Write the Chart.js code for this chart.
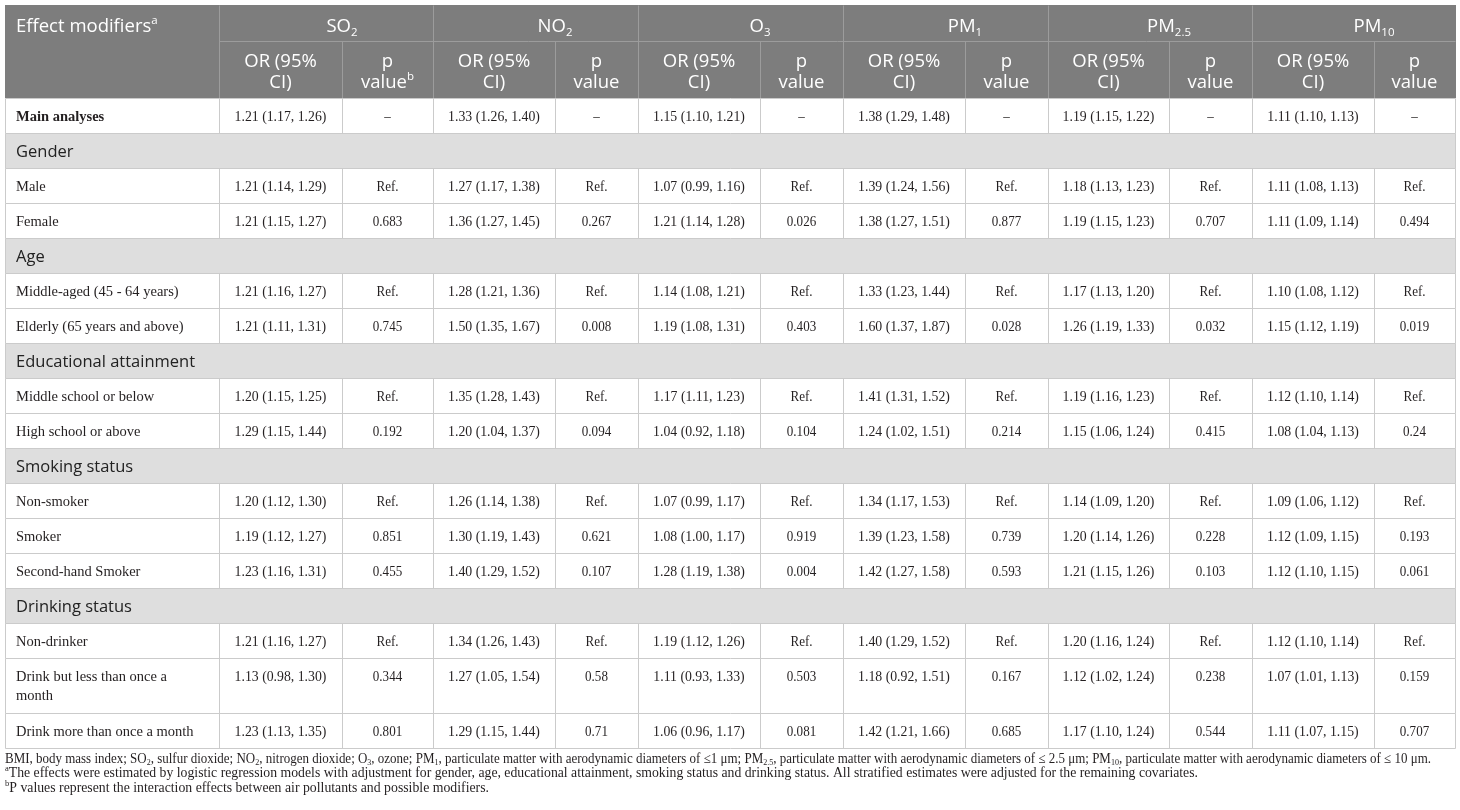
<!DOCTYPE html>
<html>
<head>
<meta charset="utf-8">
<title>Effect modifiers table</title>
<script src="https://cdn.jsdelivr.net/npm/chart.js@4.4.1/dist/chart.umd.min.js"></script>
<style>
  html, body { margin: 0; padding: 0; background: #fff; }
  #wrap { width: 1460px; height: 810px; position: relative; }
</style>
</head>
<body>
<div id="wrap"><canvas id="modifierTable"></canvas></div>
<script>
// column groups (pollutants), _{..} = subscript, ^{..} = superscript
const pollutants = ['SO_{2}', 'NO_{2}', 'O_{3}', 'PM_{1}', 'PM_{2.5}', 'PM_{10}'];
const pHeaders = ['value^{b}', 'value', 'value', 'value', 'value', 'value'];

// rows of the table, section headings are listed again below
const rowLabels = [
  'Main analyses',
  'Gender', 'Male', 'Female',
  'Age', 'Middle-aged (45 - 64 years)', 'Elderly (65 years and above)',
  'Educational attainment', 'Middle school or below', 'High school or above',
  'Smoking status', 'Non-smoker', 'Smoker', 'Second-hand Smoker',
  'Drinking status', 'Non-drinker', ['Drink but less than once a', 'month'], 'Drink more than once a month'
];
const sectionRows = ['Gender', 'Age', 'Educational attainment', 'Smoking status', 'Drinking status'];

// OR (95% CI) and p value for interaction, one entry per non-section row
const so2OR = ['1.21 (1.17, 1.26)', '1.21 (1.14, 1.29)', '1.21 (1.15, 1.27)', '1.21 (1.16, 1.27)', '1.21 (1.11, 1.31)', '1.20 (1.15, 1.25)', '1.29 (1.15, 1.44)', '1.20 (1.12, 1.30)', '1.19 (1.12, 1.27)', '1.23 (1.16, 1.31)', '1.21 (1.16, 1.27)', '1.13 (0.98, 1.30)', '1.23 (1.13, 1.35)'];
const so2P = ['–', 'Ref.', '0.683', 'Ref.', '0.745', 'Ref.', '0.192', 'Ref.', '0.851', '0.455', 'Ref.', '0.344', '0.801'];
const no2OR = ['1.33 (1.26, 1.40)', '1.27 (1.17, 1.38)', '1.36 (1.27, 1.45)', '1.28 (1.21, 1.36)', '1.50 (1.35, 1.67)', '1.35 (1.28, 1.43)', '1.20 (1.04, 1.37)', '1.26 (1.14, 1.38)', '1.30 (1.19, 1.43)', '1.40 (1.29, 1.52)', '1.34 (1.26, 1.43)', '1.27 (1.05, 1.54)', '1.29 (1.15, 1.44)'];
const no2P = ['–', 'Ref.', '0.267', 'Ref.', '0.008', 'Ref.', '0.094', 'Ref.', '0.621', '0.107', 'Ref.', '0.58', '0.71'];
const o3OR = ['1.15 (1.10, 1.21)', '1.07 (0.99, 1.16)', '1.21 (1.14, 1.28)', '1.14 (1.08, 1.21)', '1.19 (1.08, 1.31)', '1.17 (1.11, 1.23)', '1.04 (0.92, 1.18)', '1.07 (0.99, 1.17)', '1.08 (1.00, 1.17)', '1.28 (1.19, 1.38)', '1.19 (1.12, 1.26)', '1.11 (0.93, 1.33)', '1.06 (0.96, 1.17)'];
const o3P = ['–', 'Ref.', '0.026', 'Ref.', '0.403', 'Ref.', '0.104', 'Ref.', '0.919', '0.004', 'Ref.', '0.503', '0.081'];
const pm1OR = ['1.38 (1.29, 1.48)', '1.39 (1.24, 1.56)', '1.38 (1.27, 1.51)', '1.33 (1.23, 1.44)', '1.60 (1.37, 1.87)', '1.41 (1.31, 1.52)', '1.24 (1.02, 1.51)', '1.34 (1.17, 1.53)', '1.39 (1.23, 1.58)', '1.42 (1.27, 1.58)', '1.40 (1.29, 1.52)', '1.18 (0.92, 1.51)', '1.42 (1.21, 1.66)'];
const pm1P = ['–', 'Ref.', '0.877', 'Ref.', '0.028', 'Ref.', '0.214', 'Ref.', '0.739', '0.593', 'Ref.', '0.167', '0.685'];
const pm25OR = ['1.19 (1.15, 1.22)', '1.18 (1.13, 1.23)', '1.19 (1.15, 1.23)', '1.17 (1.13, 1.20)', '1.26 (1.19, 1.33)', '1.19 (1.16, 1.23)', '1.15 (1.06, 1.24)', '1.14 (1.09, 1.20)', '1.20 (1.14, 1.26)', '1.21 (1.15, 1.26)', '1.20 (1.16, 1.24)', '1.12 (1.02, 1.24)', '1.17 (1.10, 1.24)'];
const pm25P = ['–', 'Ref.', '0.707', 'Ref.', '0.032', 'Ref.', '0.415', 'Ref.', '0.228', '0.103', 'Ref.', '0.238', '0.544'];
const pm10OR = ['1.11 (1.10, 1.13)', '1.11 (1.08, 1.13)', '1.11 (1.09, 1.14)', '1.10 (1.08, 1.12)', '1.15 (1.12, 1.19)', '1.12 (1.10, 1.14)', '1.08 (1.04, 1.13)', '1.09 (1.06, 1.12)', '1.12 (1.09, 1.15)', '1.12 (1.10, 1.15)', '1.12 (1.10, 1.14)', '1.07 (1.01, 1.13)', '1.11 (1.07, 1.15)'];
const pm10P = ['–', 'Ref.', '0.494', 'Ref.', '0.019', 'Ref.', '0.24', 'Ref.', '0.193', '0.061', 'Ref.', '0.159', '0.707'];

const notes = [
  'BMI, body mass index; SO_{2}, sulfur dioxide; NO_{2}, nitrogen dioxide; O_{3}, ozone; PM_{1}, particulate matter with aerodynamic diameters of ≤1 μm; PM_{2.5}, particulate matter with aerodynamic diameters of ≤ 2.5 μm; PM_{10}, particulate matter with aerodynamic diameters of ≤ 10 μm.',
  '^{a}The effects were estimated by logistic regression models with adjustment for gender, age, educational attainment, smoking status and drinking status. All stratified estimates were adjusted for the remaining covariates.',
  '^{b}P values represent the interaction effects between air pollutants and possible modifiers.'
];

// layout (scale units)
const colWidths = [214, 123, 91, 122, 83, 122, 83, 122, 83, 121, 83, 122, 81];
const headRows = [36, 57];
const rowHeights = rowLabels.map(l => Array.isArray(l) ? 55 : 35);
const noteWidths = [1426, 1193, 484];

const orCols = [so2OR, no2OR, o3OR, pm1OR, pm25OR, pm10OR];
const pCols = [so2P, no2P, o3P, pm1P, pm25P, pm10P];

const cum = arr => arr.reduce((a, v) => { a.push(a[a.length - 1] + v); return a; }, [0]);
const colEdges = cum(colWidths);
const rowEdges = cum(headRows.concat(rowHeights));
const totalW = colEdges[colEdges.length - 1];
const totalH = rowEdges[rowEdges.length - 1];

const SANS = '"Open Sans", "Noto Sans", sans-serif';
const SERIF = '"Liberation Serif", "DejaVu Serif", serif';

function parseRich(s) {
  return s.split(/(_\{[^}]*\}|\^\{[^}]*\})/).filter(Boolean).map(p => {
    if (p.startsWith('_{')) return { t: p.slice(2, -1), k: 'sub' };
    if (p.startsWith('^{')) return { t: p.slice(2, -1), k: 'sup' };
    return { t: p, k: 'n' };
  });
}

function drawRich(ctx, s, px, py, o) {
  const parts = parseRich(s);
  const fontFor = k => `${o.weight || 'normal'} ${k === 'n' ? o.size : o.size * 0.62}px ${o.family}`;
  let w = 0;
  parts.forEach(p => { ctx.font = fontFor(p.k); p.w = ctx.measureText(p.t).width; w += p.w; });
  const sx = o.fit ? Math.min(1.3, o.fit / w) : (o.sx || 1);
  ctx.save();
  ctx.translate(px, py);
  ctx.scale(sx, 1);
  let cx = o.align === 'center' ? -w / 2 : 0;
  ctx.fillStyle = o.color;
  ctx.textBaseline = 'middle';
  ctx.textAlign = 'left';
  parts.forEach(p => {
    ctx.font = fontFor(p.k);
    const dy = p.k === 'sub' ? o.size * 0.3 : p.k === 'sup' ? -o.size * 0.32 : 0;
    ctx.fillText(p.t, cx, dy);
    cx += p.w;
  });
  ctx.restore();
}

const tablePlugin = {
  id: 'tableDraw',
  afterDraw(chart) {
    const { ctx, scales: { x, y } } = chart;
    const X = v => Math.round(x.getPixelForValue(v)) + 0.5;
    const Y = v => Math.round(y.getPixelForValue(v)) + 0.5;
    const left = X(0), right = X(totalW);
    const hTop = Y(0), hMid = Y(rowEdges[1]), hBot = Y(rowEdges[2]);

    // header background
    ctx.fillStyle = '#7d7d7d';
    ctx.fillRect(left - 0.5, hTop - 0.5, right - left + 1, hBot - hTop);

    // section backgrounds
    rowLabels.forEach((lab, i) => {
      if (sectionRows.includes(lab)) {
        ctx.fillStyle = '#dedede';
        const t = Y(rowEdges[i + 2]), b = Y(rowEdges[i + 3]);
        ctx.fillRect(left, t, right - left, b - t);
      }
    });

    ctx.lineWidth = 1;
    // header lines
    ctx.strokeStyle = '#9c9c9c';
    ctx.beginPath();
    ctx.moveTo(X(colEdges[1]), hMid); ctx.lineTo(right, hMid);
    for (let c = 1; c < colEdges.length - 1; c++) {
      const top = (c % 2 === 1) ? hTop : hMid;
      ctx.moveTo(X(colEdges[c]), top); ctx.lineTo(X(colEdges[c]), hBot);
    }
    ctx.stroke();

    // body lines
    ctx.strokeStyle = '#cbcbcb';
    ctx.beginPath();
    for (let r = 2; r < rowEdges.length; r++) {
      ctx.moveTo(left, Y(rowEdges[r])); ctx.lineTo(right, Y(rowEdges[r]));
    }
    rowLabels.forEach((lab, i) => {
      const t = Y(rowEdges[i + 2]), b = Y(rowEdges[i + 3]);
      ctx.moveTo(left, t); ctx.lineTo(left, b);
      ctx.moveTo(right, t); ctx.lineTo(right, b);
      if (sectionRows.includes(lab)) return;
      for (let c = 1; c < colEdges.length - 1; c++) {
        ctx.moveTo(X(colEdges[c]), t); ctx.lineTo(X(colEdges[c]), b);
      }
    });
    ctx.stroke();

    // header text
    const HF = 18.5;
    const hy1 = y.getPixelForValue(headRows[0] / 2) + 4;
    drawRich(ctx, 'Effect modifiers^{a}', x.getPixelForValue(11), hy1, { size: HF, family: SANS, color: '#fff' });
    pollutants.forEach((p, g) => {
      const cx = x.getPixelForValue(colEdges[1 + g * 2 + 1]);
      drawRich(ctx, p, cx, hy1, { size: HF, family: SANS, color: '#fff', align: 'center' });
      const orX = x.getPixelForValue((colEdges[1 + g * 2] + colEdges[2 + g * 2]) / 2);
      const pX = x.getPixelForValue((colEdges[2 + g * 2] + colEdges[3 + g * 2]) / 2);
      const l1 = y.getPixelForValue(rowEdges[1] + 21), l2 = y.getPixelForValue(rowEdges[1] + 42);
      drawRich(ctx, 'OR (95%', orX, l1, { size: HF, family: SANS, color: '#fff', align: 'center' });
      drawRich(ctx, 'CI)', orX, l2, { size: HF, family: SANS, color: '#fff', align: 'center' });
      drawRich(ctx, 'p', pX, l1, { size: HF, family: SANS, color: '#fff', align: 'center' });
      drawRich(ctx, pHeaders[g], pX, l2, { size: HF, family: SANS, color: '#fff', align: 'center' });
    });

    // body text
    let k = 0;
    rowLabels.forEach((lab, i) => {
      const top = rowEdges[i + 2], bot = rowEdges[i + 3];
      const lx = x.getPixelForValue(11);
      if (sectionRows.includes(lab)) {
        drawRich(ctx, lab, lx, y.getPixelForValue((top + bot) / 2) + 2, { size: 16.5, family: SANS, color: '#222' });
        return;
      }
      const lines = Array.isArray(lab) ? lab : [lab];
      const first = lines.length > 1 ? top + 19 : (top + bot) / 2 + 1.5;
      lines.forEach((ln, j) => {
        drawRich(ctx, ln, lx, y.getPixelForValue(first + j * 19), {
          size: 14.5, family: SERIF, color: '#231f20', weight: i === 0 ? 'bold' : 'normal', sx: 1.0
        });
      });
      const vy = y.getPixelForValue(first);
      for (let g = 0; g < 6; g++) {
        const orX = x.getPixelForValue((colEdges[1 + g * 2] + colEdges[2 + g * 2]) / 2);
        const pX = x.getPixelForValue((colEdges[2 + g * 2] + colEdges[3 + g * 2]) / 2);
        drawRich(ctx, orCols[g][k], orX, vy, { size: 14.5, family: SERIF, color: '#231f20', align: 'center', sx: 0.95 });
        drawRich(ctx, pCols[g][k], pX, vy, { size: 14.5, family: SERIF, color: '#231f20', align: 'center', sx: 0.9 });
      }
      k++;
    });

    // footnotes
    const base = y.getPixelForValue(totalH);
    notes.forEach((n, i) => {
      drawRich(ctx, n, left - 0.5, base + 11 + i * 14.5, { size: 14, family: SERIF, color: '#231f20', fit: noteWidths[i] });
    });
  }
};

const tableChart = new Chart(document.getElementById('modifierTable').getContext('2d'), {
  type: 'scatter',
  data: { datasets: [{ data: [], pointRadius: 0 }] },
  options: {
    responsive: true,
    maintainAspectRatio: false,
    animation: false,
    events: [],
    layout: { padding: { left: 5, right: 5, top: 5, bottom: 810 - 5 - totalH } },
    plugins: { legend: { display: false }, tooltip: { enabled: false } },
    scales: {
      x: { type: 'linear', min: 0, max: totalW, display: false },
      y: { type: 'linear', min: 0, max: totalH, reverse: true, display: false }
    }
  },
  plugins: [tablePlugin]
});
</script>
</body>
</html>
